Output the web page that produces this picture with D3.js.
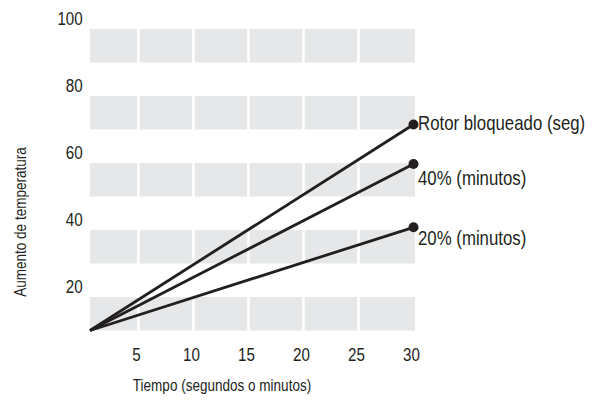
<!DOCTYPE html>
<html>
<head>
<meta charset="utf-8">
<script src="https://cdn.jsdelivr.net/npm/d3@7/dist/d3.min.js"></script>
<style>
  html, body { margin: 0; padding: 0; background: #fff; }
  svg { display: block; }
  text { font-family: "Liberation Sans", Arial, sans-serif; fill: #231f20; }
</style>
</head>
<body>
<svg id="chart" width="592" height="403"></svg>
<script>
// ---- data ----
const seriesNames = ["Rotor bloqueado (seg)", "40% (minutos)", "20% (minutos)"];
const startX = 0.6;
const startY = 10;
const endX = 30;
const endValues = [71.5, 59.7, 40.8];
const xTicks = [5, 10, 15, 20, 25, 30];
const yTicks = [20, 40, 60, 80, 100];
const bandStarts = [10, 30, 50, 70, 90];
const xTitle = "Tiempo (segundos o minutos)";
const yTitle = "Aumento de temperatura";

// ---- styling / layout ----
const labelDy = [6, 21, 18];
const SX = 0.82; // condensed look
const svg = d3.select("#chart");
const x = d3.scaleLinear().domain([startX, endX]).range([90, 413.5]);
const y = d3.scaleLinear().domain([10, 100]).range([330.5, 29]);
const bandRight = x(endX) + 1.5;

function place(sel, fx, fy, rot) {
  sel.attr("x", 0).attr("y", 0)
     .attr("transform", (d, i) => `translate(${fx(d, i)},${fy(d, i)})${rot ? " rotate(" + rot + ")" : ""} scale(${SX},1)`);
}

// bands
svg.append("g").selectAll("rect").data(bandStarts).join("rect")
  .attr("x", x(startX))
  .attr("y", d => y(d + 10))
  .attr("width", bandRight - x(startX))
  .attr("height", d => y(d) - y(d + 10))
  .attr("fill", "#e6e7e8");

// white column separators
svg.append("g").selectAll("line").data(xTicks.filter(d => d < endX)).join("line")
  .attr("x1", d => x(d)).attr("x2", d => x(d))
  .attr("y1", y(100)).attr("y2", y(10))
  .attr("stroke", "#fff").attr("stroke-width", 2.6);

// y tick labels
svg.append("g").selectAll("text").data(yTicks).join("text")
  .call(place, () => 82.7, d => y(d) - 4)
  .attr("text-anchor", "end")
  .attr("font-size", 18.5)
  .text(d => d);

// x tick labels
svg.append("g").selectAll("text").data(xTicks).join("text")
  .call(place, d => x(d) - 2, () => 361)
  .attr("text-anchor", "middle")
  .attr("font-size", 18.5)
  .text(d => d);

// lines
const lineGen = d3.line().x(d => x(d[0])).y(d => y(d[1]));
const series = seriesNames.map((name, i) => ({ name, pts: [[startX, startY], [endX, endValues[i]]], i }));

svg.append("g").selectAll("path").data(series).join("path")
  .attr("d", d => lineGen(d.pts))
  .attr("fill", "none")
  .attr("stroke", "#231f20")
  .attr("stroke-width", 2.8);

svg.append("g").selectAll("circle").data(series).join("circle")
  .attr("cx", d => x(endX))
  .attr("cy", d => y(d.pts[1][1]))
  .attr("r", 5)
  .attr("fill", "#231f20");

svg.append("g").selectAll("text").data(series).join("text")
  .call(place, () => x(endX) + 4.5, d => y(d.pts[1][1]) + labelDy[d.i])
  .attr("font-size", 20.5)
  .text(d => d.name);

// axis titles
svg.append("text").datum(xTitle)
  .call(place, () => 222, () => 391)
  .attr("text-anchor", "middle")
  .attr("font-size", 16.5)
  .text(d => d);

svg.append("text").datum(yTitle)
  .call(place, () => 25.5, () => 222, -90)
  .attr("text-anchor", "middle")
  .attr("font-size", 16.5)
  .text(d => d);
</script>
</body>
</html>
